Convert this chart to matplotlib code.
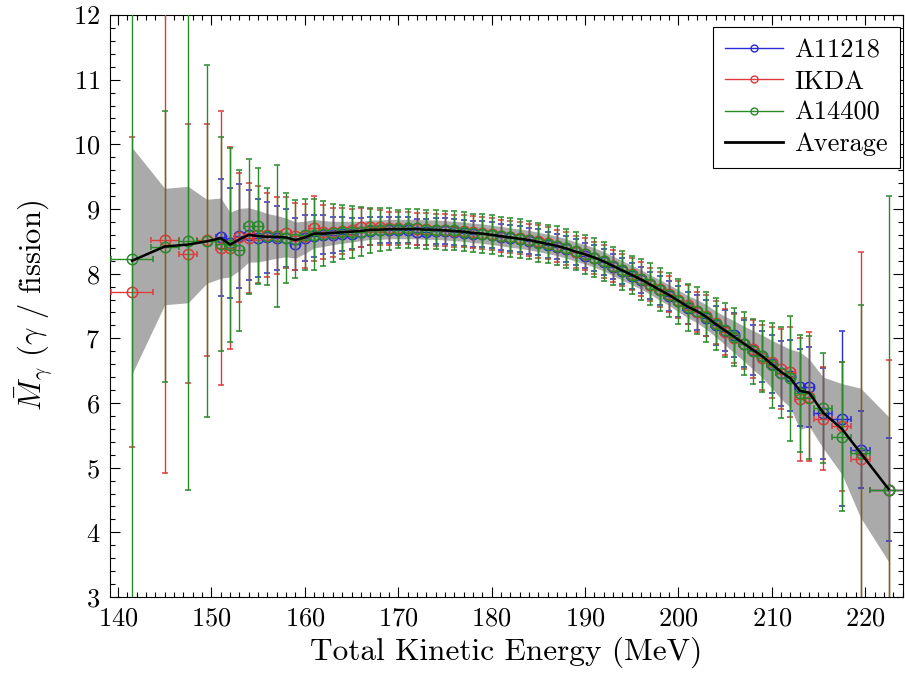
import numpy as np
import matplotlib
matplotlib.use('Agg')
import matplotlib.pyplot as plt
from matplotlib.lines import Line2D
from matplotlib.ticker import MultipleLocator

nan = np.nan

# TKE bin centres (MeV) and half widths
tke = [141.5, 145, 147.5, 149.5,
       151, 152, 153, 154, 155, 156, 157, 158, 159, 160,
       161, 162, 163, 164, 165, 166, 167, 168, 169, 170,
       171, 172, 173, 174, 175, 176, 177, 178, 179, 180,
       181, 182, 183, 184, 185, 186, 187, 188, 189, 190,
       191, 192, 193, 194, 195, 196, 197, 198, 199, 200,
       201, 202, 203, 204, 205, 206, 207, 208, 209, 210,
       211, 212, 213, 214,
       215.5, 217.5, 219.5, 222.5]
tke_err = [2.2, 1.5, 1.0, 1.0] + [0.5] * 64 + [1.0, 1.0, 1.0, 2.0]

# average and its uncertainty (grey band)
avg = [8.20, 8.42, 8.45, 8.50,
       8.55, 8.45, 8.53, 8.60, 8.58, 8.57, 8.57, 8.56, 8.52, 8.56,
       8.62, 8.62, 8.63, 8.64, 8.65, 8.66, 8.68, 8.68, 8.69, 8.69,
       8.69, 8.69, 8.68, 8.68, 8.67, 8.66, 8.65, 8.63, 8.62, 8.60,
       8.58, 8.56, 8.54, 8.52, 8.49, 8.46, 8.43, 8.39, 8.34, 8.30,
       8.25, 8.19, 8.12, 8.05, 7.98, 7.91, 7.83, 7.75, 7.67, 7.58,
       7.49, 7.42, 7.33, 7.22, 7.12, 7.02, 6.92, 6.82, 6.72, 6.60,
       6.48, 6.38, 6.19, 6.16,
       5.85, 5.60, 5.23, 4.67]
avg_err = [1.75, 0.90, 0.90, 0.65,
           0.62, 0.50, 0.48, 0.42, 0.40, 0.36, 0.33, 0.30, 0.28, 0.25,
           0.22, 0.20, 0.18, 0.17, 0.16, 0.15, 0.15, 0.15, 0.15, 0.15,
           0.15, 0.15, 0.15, 0.15, 0.15, 0.15, 0.15, 0.15, 0.15, 0.15,
           0.15, 0.15, 0.15, 0.15, 0.15, 0.15, 0.15, 0.15, 0.15, 0.15,
           0.15, 0.15, 0.15, 0.15, 0.15, 0.15, 0.15, 0.16, 0.16, 0.17,
           0.17, 0.18, 0.19, 0.20, 0.22, 0.25, 0.27, 0.30, 0.33, 0.37,
           0.42, 0.45, 0.60, 0.52,
           0.55, 0.70, 1.00, 1.12]

# A11218
a11218 = [nan, nan, nan, nan,
          8.56, 8.48, 8.58, 8.60, 8.55, 8.56, 8.55, 8.55, 8.46, 8.55,
          8.58, 8.60, 8.60, 8.61, 8.62, 8.64, 8.66, 8.67, 8.68, 8.68,
          8.67, 8.65, 8.65, 8.66, 8.66, 8.64, 8.63, 8.62, 8.61, 8.60,
          8.57, 8.55, 8.53, 8.51, 8.49, 8.45, 8.42, 8.38, 8.33, 8.28,
          8.24, 8.18, 8.11, 8.04, 7.97, 7.90, 7.82, 7.74, 7.65, 7.57,
          7.47, 7.40, 7.32, 7.20, 7.12, 7.05, 6.92, 6.82, 6.72, 6.60,
          6.46, 6.42, 6.24, 6.25,
          5.84, 5.76, 5.28, 4.66]
a11218_err = [nan, nan, nan, nan,
              0.90, 0.85, 0.80, 0.70, 0.60, 0.55, 0.50, 0.45, 0.40, 0.35,
              0.32, 0.30, 0.28, 0.26, 0.24, 0.22, 0.21, 0.20, 0.20, 0.20,
              0.20, 0.20, 0.20, 0.20, 0.20, 0.20, 0.20, 0.20, 0.20, 0.20,
              0.20, 0.20, 0.20, 0.20, 0.20, 0.20, 0.20, 0.20, 0.20, 0.20,
              0.20, 0.20, 0.20, 0.20, 0.20, 0.20, 0.21, 0.22, 0.23, 0.24,
              0.25, 0.27, 0.28, 0.30, 0.32, 0.34, 0.36, 0.38, 0.40, 0.45,
              0.50, 0.55, 0.60, 0.62,
              0.70, 1.36, 0.60, 0.80]

# IKDA
ikda = [7.72, 8.52, 8.31, 8.52,
        8.40, 8.40, 8.56, 8.55, 8.60, 8.60, 8.59, 8.63, 8.58, 8.58,
        8.70, 8.64, 8.64, 8.66, 8.68, 8.72, 8.72, 8.72, 8.70, 8.70,
        8.71, 8.69, 8.69, 8.68, 8.68, 8.66, 8.66, 8.64, 8.63, 8.61,
        8.58, 8.57, 8.55, 8.52, 8.50, 8.47, 8.43, 8.39, 8.34, 8.30,
        8.24, 8.19, 8.12, 8.06, 7.99, 7.92, 7.83, 7.76, 7.68, 7.60,
        7.52, 7.41, 7.35, 7.24, 7.10, 7.00, 6.92, 6.84, 6.70, 6.63,
        6.52, 6.48, 6.06, 6.10,
        5.76, 5.64, 5.13, 4.66]
ikda_err = [2.40, 3.60, 2.00, 1.80,
            2.12, 1.56, 1.00, 0.85, 0.75, 0.65, 0.60, 0.55, 0.52, 0.50,
            0.50, 0.42, 0.38, 0.35, 0.32, 0.30, 0.28, 0.27, 0.25, 0.25,
            0.25, 0.25, 0.25, 0.25, 0.25, 0.25, 0.25, 0.25, 0.25, 0.25,
            0.25, 0.25, 0.25, 0.25, 0.25, 0.25, 0.25, 0.25, 0.25, 0.25,
            0.25, 0.25, 0.25, 0.25, 0.25, 0.26, 0.26, 0.27, 0.28, 0.29,
            0.30, 0.31, 0.32, 0.33, 0.35, 0.38, 0.40, 0.45, 0.50, 0.55,
            0.62, 0.70, 0.95, 1.00,
            0.80, 1.00, 3.20, 2.00]

# A14400
a14400 = [8.22, 8.42, 8.50, 8.50,
          8.46, 8.44, 8.36, 8.73, 8.74, 8.58, 8.58, 8.55, 8.54, 8.60,
          8.60, 8.62, 8.63, 8.64, 8.64, 8.65, 8.67, 8.68, 8.69, 8.69,
          8.70, 8.70, 8.68, 8.68, 8.67, 8.67, 8.65, 8.63, 8.62, 8.60,
          8.58, 8.56, 8.54, 8.52, 8.48, 8.46, 8.43, 8.39, 8.35, 8.30,
          8.25, 8.19, 8.12, 8.05, 7.98, 7.91, 7.84, 7.75, 7.67, 7.57,
          7.48, 7.43, 7.33, 7.22, 7.13, 7.02, 6.92, 6.80, 6.72, 6.58,
          6.47, 6.38, 6.15, 6.08,
          5.92, 5.48, 5.22, 4.65]
a14400_err = [10.0, 2.10, 3.85, 2.72,
              1.65, 1.50, 1.25, 1.05, 0.90, 0.75, 1.10, 0.70, 0.60, 0.55,
              0.55, 0.50, 0.45, 0.42, 0.40, 0.38, 0.35, 0.33, 0.32, 0.30,
              0.30, 0.30, 0.30, 0.30, 0.30, 0.30, 0.30, 0.30, 0.30, 0.30,
              0.30, 0.30, 0.30, 0.30, 0.30, 0.30, 0.30, 0.30, 0.30, 0.30,
              0.30, 0.30, 0.30, 0.30, 0.30, 0.31, 0.32, 0.33, 0.34, 0.35,
              0.36, 0.37, 0.38, 0.40, 0.42, 0.45, 0.48, 0.50, 0.55, 0.65,
              0.70, 0.97, 0.90, 0.95,
              0.85, 1.15, 2.30, 4.55]

plt.rcParams['font.family'] = 'serif'
plt.rcParams['font.serif'] = ['cmr10']
plt.rcParams['mathtext.fontset'] = 'cm'
plt.rcParams['axes.unicode_minus'] = False
plt.rcParams['axes.formatter.use_mathtext'] = True

fig = plt.figure(figsize=(9.05, 6.75), dpi=100)
ax = fig.add_axes([110 / 905, 78 / 675, 793 / 905, 582 / 675])

x = np.array(tke)
a = np.array(avg)
e = np.array(avg_err)
ax.fill_between(x, a - e, a + e, color='#aaaaaa', lw=0, zorder=1)

series = [('A11218', a11218, a11218_err, '#2a2ad8'),
          ('IKDA', ikda, ikda_err, '#e03a3a'),
          ('A14400', a14400, a14400_err, '#2a8a2a')]
handles = []
for i, (name, vals, err, col) in enumerate(series):
    v = np.array(vals); ye = np.array(err)
    ok = ~np.isnan(v)
    eb = ax.errorbar(x[ok], v[ok], xerr=np.array(tke_err)[ok], yerr=ye[ok],
                     fmt='o', ms=7.5, mfc='none', mec=col, mew=1.1,
                     ecolor=col, elinewidth=1.0, capsize=2, capthick=1.0,
                     zorder=2 + i)
    for cl in eb[1]:
        if cl.get_marker() == '_':
            cl.set_color('#333333')
    handles.append(Line2D([], [], color=col, lw=1.0, marker='o', ms=5,
                          mfc='none', mec=col, mew=1.0, label=name))

ax.plot(x, a, color='black', lw=1.8, zorder=10)
handles.append(Line2D([], [], color='black', lw=2.0, label='Average'))

ax.set_xlim(139.14, 224.05)
ax.set_ylim(3, 12)
ax.xaxis.set_major_locator(MultipleLocator(10))
ax.xaxis.set_minor_locator(MultipleLocator(1))
ax.yaxis.set_major_locator(MultipleLocator(1))
ax.yaxis.set_minor_locator(MultipleLocator(0.2))
ax.tick_params(which='both', direction='in', top=True, right=True,
               labelsize=19, width=0.8)
ax.tick_params(which='major', length=7, pad=7)
ax.tick_params(which='minor', length=3.5)
for s in ax.spines.values():
    s.set_linewidth(0.8)

ax.set_xlabel('Total Kinetic Energy (MeV)', fontsize=22.5, labelpad=4)
ax.set_ylabel(r'$\bar{M}_{\gamma}$ ($\gamma$ / fission)', fontsize=22,
              labelpad=13)

leg = ax.legend(handles=handles, loc='upper right', fontsize=19,
                bbox_to_anchor=(1 - 3 / 793, 1 - 12 / 582),
                frameon=True, fancybox=False, framealpha=1,
                edgecolor='black', handlelength=2.2, labelspacing=0.28,
                borderpad=0.45, borderaxespad=0.0, handletextpad=0.45)
leg.get_frame().set_linewidth(0.8)
leg.set_zorder(20)

fig.savefig('out.png', dpi=100)
